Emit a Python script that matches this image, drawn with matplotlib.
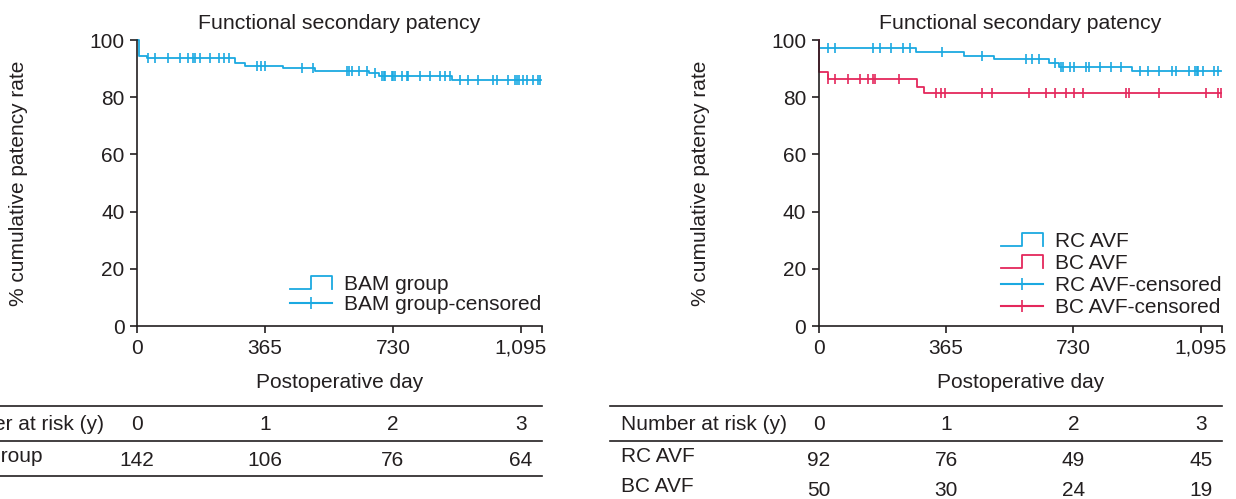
import numpy as np
import matplotlib
matplotlib.use("Agg")
import matplotlib.pyplot as plt
from matplotlib.lines import Line2D
from matplotlib.legend_handler import HandlerBase

plt.rcParams["font.family"] = ["Liberation Sans", "DejaVu Sans"]
plt.rcParams["font.size"] = 15
TXT = "#231F20"
BLUE = "#1BA9E1"
RED = "#E4285C"

# BAM group (left panel)
bam_times = [0, 5, 28, 280, 308, 417, 508, 662, 690, 898]
bam_surv = [100, 94.4, 93.7, 91.9, 90.9, 90.1, 89.2, 88.5, 87.5, 86.1]
bam_censor = [32, 51, 89, 123, 146, 161, 165, 180, 208, 235, 249, 263, 341, 354,
              365, 471, 501, 598, 606, 612, 634, 655, 679, 698, 703, 707, 726,
              731, 736, 755, 769, 774, 807, 836, 864, 878, 893, 921, 945, 973,
              1016, 1026, 1059, 1078, 1083, 1088, 1102, 1111, 1130, 1145, 1150]

# RC AVF / BC AVF (right panel)
rc_times = [0, 1, 278, 416, 502, 660, 688, 898]
rc_surv = [100, 97.1, 95.7, 94.3, 93.2, 92.0, 90.7, 89.1]
rc_censor = [27, 47, 156, 177, 207, 242, 261, 352, 469, 595, 612, 631, 676, 695,
             700, 719, 733, 767, 774, 807, 838, 867, 922, 943, 976, 1013, 1024,
             1060, 1079, 1083, 1087, 1100, 1134, 1143]
bc_times = [0, 1, 27, 282, 302]
bc_surv = [100, 88.7, 86.4, 83.7, 81.5]
bc_censor = [27, 47, 85, 118, 142, 156, 161, 231, 336, 350, 361, 469, 498, 604,
             652, 676, 709, 733, 757, 881, 890, 974, 1110, 1143, 1153]

year_ticks = [0, 365, 730, 1095]
year_labels = ["0", "365", "730", "1,095"]
risk_years = ["0", "1", "2", "3"]
bam_risk = [142, 106, 76, 64]
rc_risk = [92, 76, 49, 45]
bc_risk = [50, 30, 24, 19]

X_END = 1155


class StepHandler(HandlerBase):
    def create_artists(self, legend, orig_handle, xdescent, ydescent,
                       width, height, fontsize, trans):
        x0 = -xdescent
        lo = -ydescent + 0.05 * height
        hi = 0.95 * height
        xs = [x0, x0 + width / 2, x0 + width / 2, x0 + width, x0 + width]
        ys = [lo, lo, hi, hi, lo]
        line = Line2D(xs, ys, color=orig_handle.get_color(), lw=1.3)
        line.set_transform(trans)
        return [line]


def draw_curve(ax, times, surv, censor, color):
    t = list(times) + [X_END - 2]
    s = list(surv) + [surv[-1]]
    ax.step(t, s, where="post", color=color, lw=1.3, clip_on=False)
    idx = np.searchsorted(times, censor, side="right") - 1
    ax.plot(censor, np.array(surv)[idx], ls="none", marker="|", ms=7,
            mew=1.2, color=color, clip_on=False)


def style_axes(ax):
    ax.set_xlim(0, X_END)
    ax.set_ylim(0, 100)
    for side in ["top", "right"]:
        ax.spines[side].set_visible(False)
    for side in ["left", "bottom"]:
        ax.spines[side].set_color(TXT)
        ax.spines[side].set_linewidth(1.2)
    ax.set_xticks(year_ticks + [X_END])
    ax.set_xticklabels(year_labels + [""])
    ax.set_yticks([0, 20, 40, 60, 80, 100])
    ax.tick_params(length=5, width=1.2, color=TXT, labelcolor=TXT, pad=4)
    ax.set_title("Functional secondary patency", color=TXT, pad=8, fontsize=15.3)
    ax.set_ylabel("% cumulative patency rate", color=TXT)
    ax.yaxis.set_label_coords(-0.27, 0.5)
    ax.set_xlabel("Postoperative day", color=TXT)
    ax.xaxis.set_label_coords(0.5, -0.165)


def risk_table(ax, rows, line_start, bottom_line):
    tr = ax.get_xaxis_transform()
    lab_x = -199 / 405
    ys_line = [-0.280, -0.402]
    if bottom_line:
        ys_line.append(-0.524)
    for yl in ys_line:
        ax.plot([line_start, 1.0], [yl, yl], transform=ax.transAxes,
                color=TXT, lw=1.2, clip_on=False)
    ax.text(lab_x, -0.343, "Number at risk (y)", transform=ax.transAxes,
            ha="left", va="center", color=TXT)
    for xv, lab in zip(year_ticks, risk_years):
        ax.text(xv, -0.343, lab, transform=tr, ha="center", va="center", color=TXT)
    for k, (name, vals) in enumerate(rows):
        y = -0.465 - 0.105 * k
        ax.text(lab_x, y + 0.01, name, transform=ax.transAxes, ha="left",
                va="center", color=TXT)
        for xv, v in zip(year_ticks, vals):
            ax.text(xv, y - 0.005, str(v), transform=tr, ha="center",
                    va="center", color=TXT)


fig = plt.figure(figsize=(12.36, 4.99), dpi=100)
ax1 = fig.add_axes([137 / 1236, 173 / 499, 405 / 1236, 286 / 499])
ax2 = fig.add_axes([818.7 / 1236, 173 / 499, 403 / 1236, 286 / 499])

draw_curve(ax1, bam_times, bam_surv, bam_censor, BLUE)
style_axes(ax1)
h1 = [Line2D([], [], color=BLUE),
      Line2D([], [], color=BLUE, marker="|", ms=8, mew=1.2)]
ax1.legend(h1, ["BAM group", "BAM group-censored"], loc="upper left",
           bbox_to_anchor=(0.378, 0.178), frameon=False, borderpad=0,
           borderaxespad=0, handlelength=2.0, handletextpad=0.6,
           labelspacing=0.05, handler_map={h1[0]: StepHandler()},
           labelcolor=TXT)
risk_table(ax1, [("BAM group", bam_risk)], -137 / 405, True)

draw_curve(ax2, rc_times, rc_surv, rc_censor, BLUE)
draw_curve(ax2, bc_times, bc_surv, bc_censor, RED)
style_axes(ax2)
h2 = [Line2D([], [], color=BLUE), Line2D([], [], color=RED),
      Line2D([], [], color=BLUE, marker="|", ms=8, mew=1.2),
      Line2D([], [], color=RED, marker="|", ms=8, mew=1.2)]
ax2.legend(h2, ["RC AVF", "BC AVF", "RC AVF-censored", "BC AVF-censored"],
           loc="upper left", bbox_to_anchor=(0.452, 0.33), frameon=False,
           borderpad=0, borderaxespad=0, handlelength=2.0, handletextpad=0.6,
           labelspacing=0.15, handler_map={h2[0]: StepHandler(), h2[1]: StepHandler()},
           labelcolor=TXT)
risk_table(ax2, [("RC AVF", rc_risk), ("BC AVF", bc_risk)], -208.7 / 403, False)

fig.savefig("out.png", dpi=100)
